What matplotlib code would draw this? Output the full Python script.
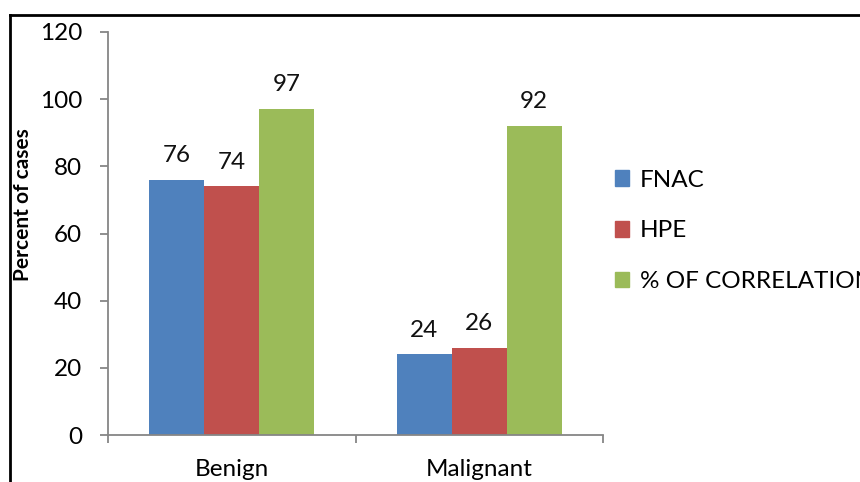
import numpy as np
import matplotlib
matplotlib.use("Agg")
import matplotlib.pyplot as plt
from matplotlib.lines import Line2D
from matplotlib.patches import Patch

plt.rcParams['font.family'] = ['Lato', 'DejaVu Sans']

categories = ["Benign", "Malignant"]
series_names = ["FNAC", "HPE", "% OF CORRELATION"]
fnac = [76, 24]
hpe = [74, 26]
correlation = [97, 92]
colors = ["#4F81BD", "#C0504D", "#9BBB59"]
axis_grey = "#868686"
fs = 17.5

fig = plt.figure(figsize=(8.6, 4.82), dpi=100)
ax = fig.add_axes([108 / 860, 47 / 482, (603 - 108) / 860, (435 - 32) / 482])

x = np.arange(len(categories))
width = 0.222
for i, (vals, name) in enumerate(zip([fnac, hpe, correlation], series_names)):
    pos = x + (i - 1) * width
    ax.bar(pos, vals, width=width, color=colors[i], label=name, zorder=2)
    for p, v in zip(pos, vals):
        ax.annotate(str(v), (p, v), xytext=(0, 10), textcoords="offset points",
                    ha="center", va="bottom", fontsize=fs, color="#111111")

ax.set_xlim(-0.5, 1.5)
ax.set_ylim(0, 120)
ax.set_yticks(range(0, 121, 20))
ax.set_xticks(x)
ax.set_xticklabels(categories)
ax.set_xticks([-0.5, 0.5, 1.5], minor=True)
ax.tick_params(axis="x", which="major", length=0, pad=17, labelsize=fs)
ax.tick_params(axis="x", which="minor", length=5.5, color=axis_grey, width=1.3)
ax.tick_params(axis="y", length=5.5, color=axis_grey, width=1.3, labelsize=fs, pad=13)

for side in ["top", "right"]:
    ax.spines[side].set_visible(False)
for side in ["left", "bottom"]:
    ax.spines[side].set_color(axis_grey)
    ax.spines[side].set_linewidth(1.3)

fig.text(23 / 860, 1 - 205 / 482, "Percent of cases", rotation=90, ha="center",
         va="center", fontsize=15, fontweight="bold")

handles = [Patch(color=c) for c in colors]
fig.legend(handles, series_names, loc="upper left", bbox_to_anchor=(605 / 860, 1 - 160 / 482),
           frameon=False, fontsize=fs, handlelength=0.6, handleheight=0.6,
           handletextpad=0.45, labelspacing=1.22, borderaxespad=0)

# outer frame line on the left and top
fig.add_artist(Line2D([10 / 860, 10 / 860], [0, 1 - 15 / 482], transform=fig.transFigure,
                      color="black", lw=2))
fig.add_artist(Line2D([10 / 860, 1], [1 - 15 / 482, 1 - 15 / 482], transform=fig.transFigure,
                      color="black", lw=2))

fig.savefig("out.png", dpi=100)
